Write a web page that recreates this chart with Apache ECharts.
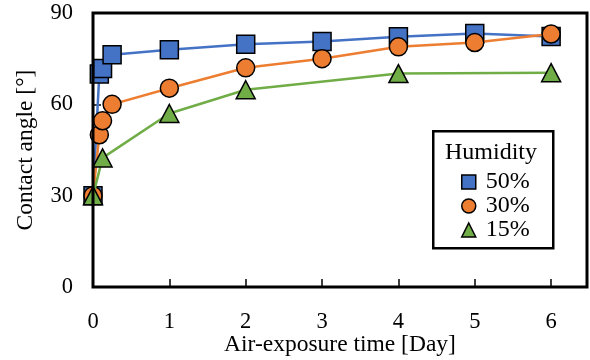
<!DOCTYPE html>
<html>
<head>
<meta charset="utf-8">
<script src="https://cdn.jsdelivr.net/npm/echarts@6/dist/echarts.min.js"></script>
<style>
html,body{margin:0;padding:0;background:#fff;}
#c{width:590px;height:360px;}
</style>
</head>
<body>
<div id="c"></div>
<script>
var seriesNames = ['50%', '30%', '15%'];
var legendTitle = 'Humidity';
var xTitle = 'Air-exposure time [Day]';
var yTitle = 'Contact angle [°]';

var h50 = [[0, 30], [0.083, 70.0], [0.125, 71.8], [0.25, 76.3], [1, 77.9], [2, 79.7], [3, 80.6], [4, 82.2], [5, 83.3], [6, 82.3]];
var h30 = [[0, 30], [0.083, 50.0], [0.125, 54.6], [0.25, 60.0], [1, 65.3], [2, 72.0], [3, 75.0], [4, 78.9], [5, 80.3], [6, 83.1]];
var h15 = [[0, 30], [0.125, 42.4], [1, 57.0], [2, 64.8], [4, 70.1], [6, 70.4]];

var colors = ['#4472C4', '#ED7D31', '#70AD47'];
var symbols = ['rect', 'circle', 'triangle'];
var dataSets = [h50, h30, h15];

var font = 'Liberation Serif, Times New Roman, serif';

var chart = echarts.init(document.getElementById('c'), null, {renderer: 'canvas'});

var series = dataSets.map(function (d, i) {
  return {
    name: seriesNames[i],
    type: 'line',
    data: d,
    symbol: symbols[i],
    symbolSize: i === 2 ? [19, 18] : 18,
    showAllSymbol: true,
    z: 2 + i,
    lineStyle: {color: colors[i], width: 2.5},
    itemStyle: {color: colors[i], borderColor: '#000', borderWidth: 1.5},
    emphasis: {disabled: true},
    animation: false
  };
});

chart.setOption({
  animation: false,
  grid: {left: 93, top: 13, width: 494, height: 274, show: true, borderColor: '#000', borderWidth: 3, backgroundColor: 'transparent', z: 10, containLabel: false, outerBoundsMode: 'none'},
  xAxis: {
    type: 'value', min: 0, max: 6.47, interval: 1,
    name: xTitle, nameLocation: 'middle', nameGap: 46, nameMoveOverlap: false,
    nameTextStyle: {fontFamily: font, fontSize: 23.5, color: '#000'},
    axisLine: {show: false},
    axisTick: {show: true, inside: true, length: 8, lineStyle: {color: '#000', width: 1.5}},
    splitLine: {show: false},
    axisLabel: {fontFamily: font, fontSize: 22.5, color: '#000', margin: 24, showMaxLabel: false}
  },
  yAxis: {
    type: 'value', min: 0, max: 90, interval: 30,
    name: yTitle, nameLocation: 'middle', nameGap: 55, nameMoveOverlap: false,
    nameTextStyle: {fontFamily: font, fontSize: 23.5, color: '#000'},
    axisLine: {show: false},
    axisTick: {show: true, inside: true, length: 8, lineStyle: {color: '#000', width: 1.5}},
    splitLine: {show: false},
    axisLabel: {fontFamily: font, fontSize: 22.5, color: '#000', margin: 20}
  },
  legend: {
    orient: 'vertical',
    left: 456, top: 165,
    itemWidth: 14, itemHeight: 14, itemGap: 0,
    data: seriesNames.map(function (n, i) { return {name: n, icon: symbols[i]}; }),
    itemStyle: {borderColor: '#000', borderWidth: 1.5},
    textStyle: {fontFamily: font, fontSize: 24, color: '#000', padding: [0, 0, 0, 5]},
    selectedMode: false
  },
  graphic: [
    {type: 'rect', left: 432, top: 130, shape: {width: 120, height: 117}, style: {fill: '#fff', stroke: '#000', lineWidth: 2.5}, z: 4},
    {type: 'text', left: 445, top: 141, style: {text: legendTitle, font: '24px ' + font, fill: '#000'}, z: 5}
  ],
  series: series
});
</script>
</body>
</html>
